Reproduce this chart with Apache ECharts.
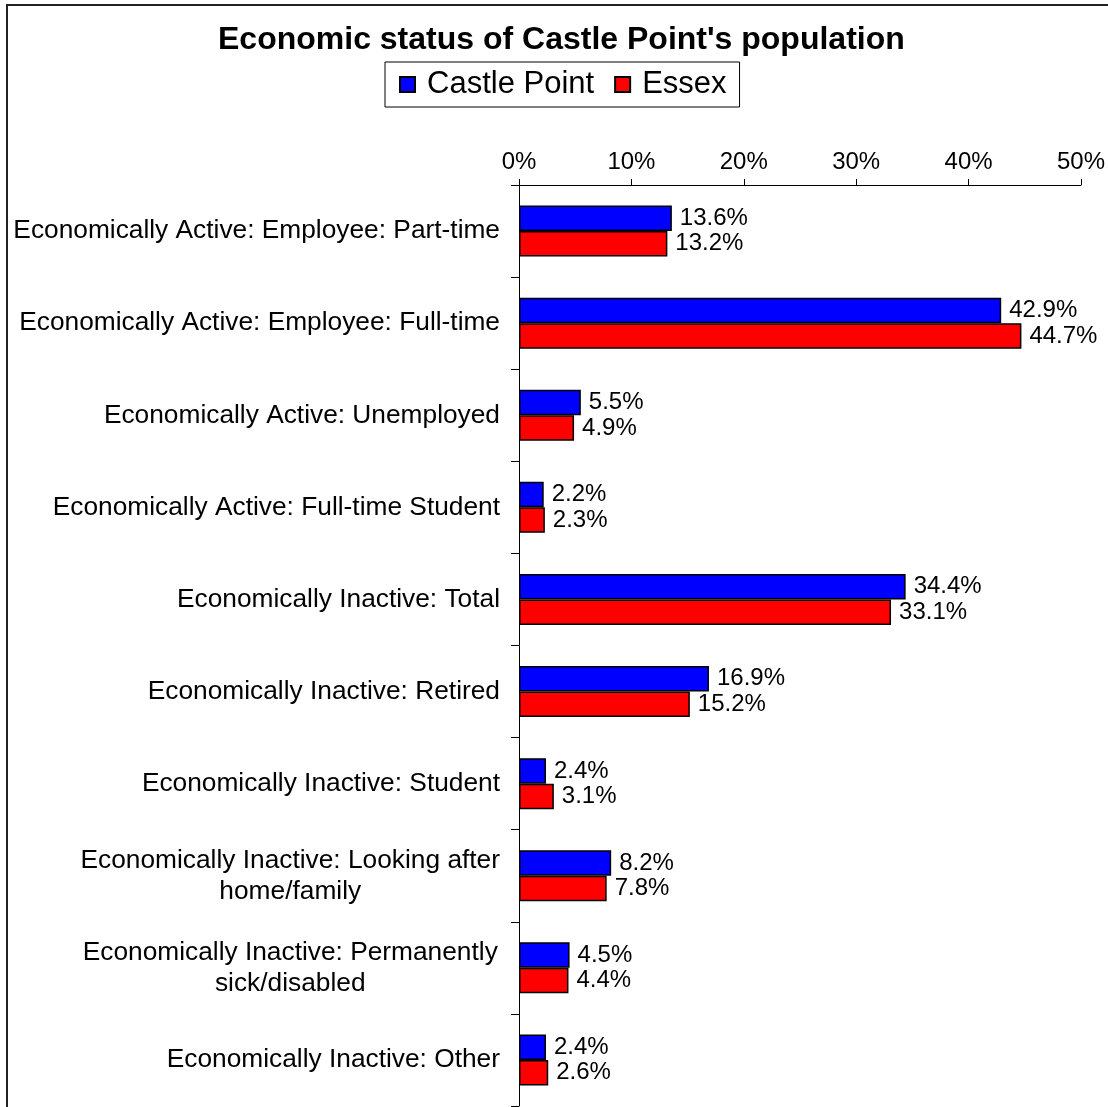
<!DOCTYPE html>
<html>
<head>
<meta charset="utf-8">
<title>Economic status of Castle Point's population</title>
<script src="https://cdn.jsdelivr.net/npm/echarts@6/dist/echarts.min.js"></script>
<style>
  html, body { margin: 0; padding: 0; background: #fff; }
  #chart { width: 1108px; height: 1107px; }
</style>
</head>
<body>
<div id="chart"></div>
<script>
// 数据
const categories = [
  'Economically Active: Employee: Part-time',
  'Economically Active: Employee: Full-time',
  'Economically Active: Unemployed',
  'Economically Active: Full-time Student',
  'Economically Inactive: Total',
  'Economically Inactive: Retired',
  'Economically Inactive: Student',
  'Economically Inactive: Looking after\nhome/family',
  'Economically Inactive: Permanently\nsick/disabled',
  'Economically Inactive: Other'
]
const castlePoint = [13.6, 42.9, 5.5, 2.2, 34.4, 16.9, 2.4, 8.2, 4.5, 2.4]
const essex = [13.2, 44.7, 4.9, 2.3, 33.1, 15.2, 3.1, 7.8, 4.4, 2.6]
const seriesNames = ['Castle Point', 'Essex']
const tickValues = [0, 10, 20, 30, 40, 50]

const FONT = 'Liberation Sans'
const CAT_SIZE = 26.3

// 两行的类目标签：每行居中
const ctx = document.createElement('canvas').getContext('2d')
ctx.font = CAT_SIZE + 'px ' + FONT
function catLabel (value) {
  if (value.indexOf('\n') < 0) return value
  return value.split('\n').map(line => '{c|' + line + '}').join('\n')
}
let maxW = 0
categories.forEach(c => {
  if (c.indexOf('\n') >= 0) {
    c.split('\n').forEach(l => { maxW = Math.max(maxW, ctx.measureText(l).width) })
  }
})

const chart = echarts.init(document.getElementById('chart'))

function barSeries (name, data, color) {
  return {
    name: name,
    type: 'bar',
    data: data,
    barWidth: 25.5,
    barGap: '0%',
    itemStyle: { color: color, borderColor: '#000', borderWidth: 1.5 },
    label: {
      show: true,
      position: 'right',
      distance: 8,
      color: '#000',
      fontFamily: FONT,
      fontSize: 24,
      formatter: p => p.value.toFixed(1) + '%'
    },
    emphasis: { disabled: true }
  }
}

chart.setOption({
  animation: false,
  backgroundColor: '#fff',
  textStyle: { fontFamily: FONT, color: '#000' },
  title: {
    text: "Economic status of Castle Point's population",
    left: 218,
    top: 24,
    padding: 0,
    textStyle: { fontFamily: FONT, fontSize: 32, fontWeight: 'bold', color: '#000' }
  },
  legend: {
    data: seriesNames,
    left: 385,
    top: 62,
    orient: 'horizontal',
    icon: 'rect',
    itemWidth: 15,
    itemHeight: 15,
    itemGap: 20,
    padding: [7, 13, 7, 14],
    borderColor: '#000',
    borderWidth: 1,
    textStyle: { fontFamily: FONT, fontSize: 31, color: '#000', padding: [2, 0, 0, 7] }
  },
  grid: { left: 519, right: 27, top: 185, bottom: 1, containLabel: false },
  xAxis: {
    type: 'value',
    position: 'top',
    min: tickValues[0],
    max: tickValues[tickValues.length - 1],
    interval: 10,
    axisLine: { show: true, lineStyle: { color: '#000', width: 1 } },
    axisTick: { show: true, length: 6, lineStyle: { color: '#000' } },
    splitLine: { show: false },
    axisLabel: { formatter: '{value}%', fontSize: 24, color: '#000', margin: 11, fontFamily: FONT }
  },
  yAxis: {
    type: 'category',
    inverse: true,
    data: categories,
    axisLine: { show: true, lineStyle: { color: '#000', width: 1 } },
    axisTick: { show: true, length: 8, lineStyle: { color: '#000' } },
    axisLabel: {
      fontSize: CAT_SIZE,
      color: '#000',
      margin: 19,
      lineHeight: 31,
      fontFamily: FONT,
      formatter: catLabel,
      rich: {
        c: { width: maxW, align: 'center', fontSize: CAT_SIZE, lineHeight: 31, fontFamily: FONT, color: '#000' }
      }
    }
  },
  series: [
    barSeries(seriesNames[0], castlePoint, '#0000ff'),
    barSeries(seriesNames[1], essex, '#ff0000')
  ],
  graphic: [
    {
      type: 'rect',
      shape: { x: 7, y: 5, width: 1200, height: 1200 },
      style: { fill: 'none', stroke: '#222', lineWidth: 2 },
      silent: true
    }
  ]
})
</script>
</body>
</html>
